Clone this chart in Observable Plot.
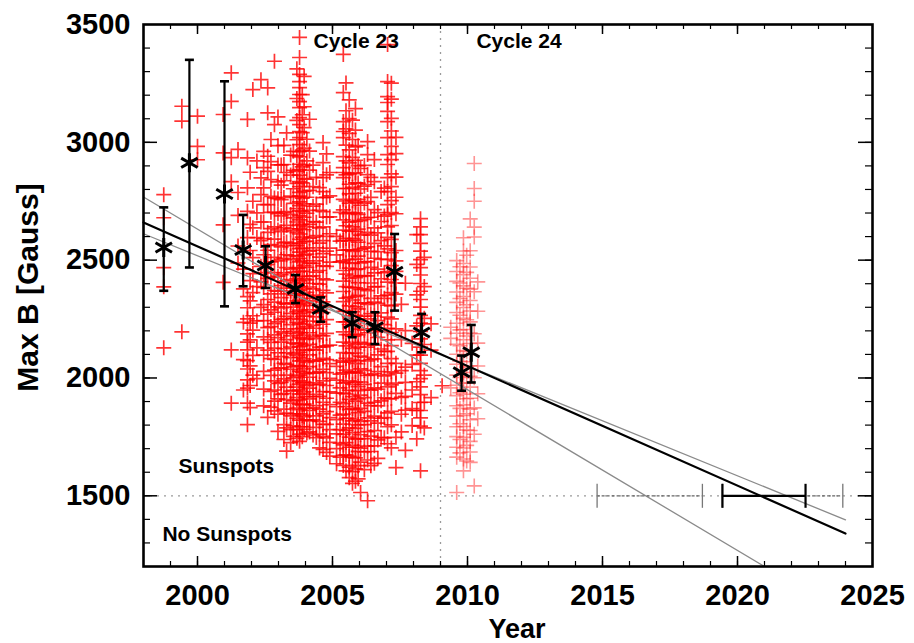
<!DOCTYPE html>
<html><head><meta charset="utf-8">
<script src="https://cdn.jsdelivr.net/npm/d3@7"></script>
<script src="https://cdn.jsdelivr.net/npm/@observablehq/plot@0.6"></script>
<style>html,body{margin:0;padding:0;background:#fff;} #chart{width:914px;height:643px;overflow:hidden;}</style>
</head><body><div id="chart"></div>
<script>
// ---------- data ----------
// Cycle 23 red crosses: column years and the Max B values read in each column
const c23Years = [1998.75, 1999.42, 2000.00, 2000.95, 2001.25, 2001.50, 2001.85, 2002.05, 2002.35, 2002.60, 2002.85, 2003.10, 2003.30, 2003.55, 2003.78, 2003.95, 2004.15, 2004.40, 2004.65, 2004.90, 2005.15, 2005.40, 2005.62, 2005.85, 2006.04, 2006.30, 2006.55, 2006.80, 2007.04, 2007.35, 2007.70, 2007.95, 2008.26, 2008.65, 2009.06,
  2003.45, 2003.68, 2003.88, 2004.05, 2004.28, 2004.52, 2004.78, 2005.28, 2005.50, 2005.74, 2005.95, 2006.18, 2006.42, 2006.68, 2006.92, 2007.18, 2007.55, 2008.12, 2008.40, 2002.20, 2001.70,
  2001.95, 2002.45, 2002.72, 2002.98, 2003.20];
const c23Fields = [
  [2778, 2680, 2468, 2387, 2128],
  [3153, 3090, 2196],
  [3111, 2983, 2926],
  [3118, 2955, 2650, 2406],
  [3295, 3174, 2935, 2833, 2119, 1893],
  [2970, 2787, 2690, 2560, 2488],
  [3097, 2934, 2807, 2707, 2596, 2345, 2298, 2251, 2187, 2152, 2119, 2074, 2038, 1992, 1957, 1893, 1802],
  [3224, 2750, 2637, 2511, 2443, 2362, 2264, 2203, 2096, 2012],
  [3266, 2849, 2778, 2662, 2583, 2474, 2408, 2300],
  [3231, 3125, 2941, 2877, 2736, 2618, 2542, 2481, 2423, 2333, 2271, 2214, 2163, 2118, 1833],
  [3344, 3075, 2764, 2703, 2641, 2589, 2512, 2447, 2371, 2322, 2279, 2231, 2183, 2127, 2079, 2033, 1988, 1949, 1902, 1860],
  [2904, 2818, 2757, 2688, 2621, 2556, 2503, 2438, 2392, 2341, 2297, 2248, 2196, 2152, 2091, 2043, 1981, 1930],
  [3040, 2872, 2706, 2648, 2577, 2523, 2468, 2412, 2357, 2313, 2262, 2208, 2163, 2107, 2058, 2012, 1961, 1908, 1851, 1788, 1690],
  [2962, 2881, 2803, 2741, 2679, 2624, 2563, 2502, 2449, 2404, 2352, 2301, 2253, 2198, 2148, 2102, 2047, 2001, 1948, 1903, 1848, 1797, 1752],
  [3445, 3360, 3288, 3258, 3232, 3203, 3173, 3147, 3105, 3075, 3045, 3020, 2990, 2960, 2938, 2907, 2884, 2861, 2833, 2812, 2788, 2772, 2747, 2731, 2709, 2688, 2671, 2648, 2633, 2611, 2588, 2572, 2549, 2534, 2508, 2493, 2468, 2452, 2431, 2412, 2388, 2373, 2351, 2329, 2312, 2288, 2273, 2249, 2232, 2208, 2193, 2171, 2148, 2133, 2109, 2088, 2072, 2051, 2029, 2012, 1988, 1973, 1949, 1932, 1907, 1888, 1866, 1848, 1821, 1793, 1762, 1731],
  [3280, 3151, 3062, 2975, 2902, 2846, 2793, 2739, 2682, 2629, 2578, 2521, 2477, 2421, 2379, 2322, 2281, 2228, 2182, 2137, 2081, 2039, 1982, 1941, 1889, 1836, 1782],
  [3098, 2963, 2882, 2796, 2711, 2652, 2593, 2538, 2487, 2431, 2386, 2338, 2289, 2241, 2192, 2143, 2098, 2048, 2003, 1957, 1911, 1862, 1818, 1771],
  [2851, 2738, 2661, 2604, 2552, 2497, 2449, 2401, 2352, 2308, 2259, 2211, 2167, 2118, 2071, 2023, 1979, 1931, 1883, 1839, 1790, 1747],
  [2999, 2914, 2850, 2791, 2765, 2706, 2641, 2583, 2528, 2476, 2421, 2372, 2323, 2277, 2228, 2179, 2132, 2083, 2037, 1988, 1942, 1897, 1848, 1803, 1752, 1697],
  [2872, 2773, 2684, 2612, 2551, 2492, 2139, 2061, 1998, 1941, 1887, 1832, 1781, 1727, 1668],
  [2601, 2522, 2049, 1991, 1936, 1878, 1823, 1763, 1700, 1636],
  [3373, 3211, 3088, 3046, 3020, 2939, 2893, 2872, 2850, 2804, 2758, 2713, 2671, 2627, 2584, 2542, 2497, 2456, 2411, 2367, 2324, 2283, 2238, 2196, 2152, 2108, 2067, 2022, 1978, 1936, 1891, 1847, 1804, 1761, 1716, 1672, 1629],
  [3180, 3101, 3038, 2968, 2913, 2866, 2822, 2781, 2742, 2703, 2661, 2623, 2582, 2544, 2502, 2466, 2423, 2385, 2343, 2306, 2263, 2227, 2184, 2147, 2104, 2068, 2026, 1988, 1947, 1909, 1867, 1829, 1788, 1749, 1706, 1668, 1622, 1577],
  [3143, 3052, 2981, 2924, 2871, 2828, 2784, 2746, 2701, 2664, 2622, 2585, 2541, 2504, 2461, 2426, 2382, 2346, 2302, 2266, 2222, 2186, 2142, 2106, 2061, 2026, 1982, 1946, 1902, 1866, 1822, 1786, 1742, 1706, 1661, 1614, 1562],
  [2889, 2802, 2733, 2668, 2606, 2547, 2488, 2431, 2376, 2318, 2262, 2207, 2151, 2093, 2039, 1983, 1927, 1871, 1816, 1759, 1702, 1643, 1514],
  [3003, 2948, 2863, 2821, 2748, 2680, 2618, 2556, 2494, 2433, 2371, 2312, 2251, 2192, 2131, 2072, 2011, 1952, 1893, 1831, 1772, 1711, 1652, 1479],
  [2927, 2833, 2714, 2637, 2571, 2508, 2446, 2387, 2322, 2263, 2201, 2139, 2081, 2018, 1958, 1897, 1838, 1777, 1712, 1638],
  [2791, 2664, 2583, 2503, 2421, 2348, 2276, 2197, 2123, 2048, 1978, 1903, 1829, 1748],
  [3415, 3258, 3194, 3169, 3131, 3088, 3020, 2948, 2906, 2850, 2791, 2736, 2693, 2641, 2597, 2548, 2503, 2451, 2407, 2352, 2309, 2258, 2211, 2162, 2113, 2062, 2014, 1962, 1911, 1852, 1793, 1721],
  [3021, 2952, 2852, 2767, 2697, 2541, 2497, 2452, 2403, 2356, 2208, 2062, 2021, 1978, 1935, 1748, 1620],
  [2402, 2201, 2046, 1981, 1922, 1864, 1693],
  [2147, 2058, 1949, 1870, 1798],
  [2676, 2641, 2608, 2571, 2538, 2502, 2468, 2437, 2401, 2368, 2333, 2301, 2266, 2233, 2198, 2166, 2131, 2097, 2062, 2031, 1997, 1962, 1929, 1896, 1862, 1831, 1796, 1606],
  [2230, 2118, 1917],
  [1967],
  [2946, 2861, 2772, 2694, 2633, 2571, 2519, 2462, 2417, 2369, 2318, 2274, 2226, 2179, 2131, 2086, 2037, 1989, 1944, 1893, 1839, 1781, 1726],
  [3312, 3186, 3093, 3011, 2943, 2877, 2826, 2768, 2719, 2662, 2617, 2562, 2517, 2466, 2421, 2372, 2327, 2281, 2236, 2188, 2143, 2097, 2052, 2006, 1961, 1917, 1872, 1829, 1781, 1744],
  [3202, 3117, 3041, 2967, 2896, 2828, 2763, 2706, 2652, 2598, 2551, 2498, 2452, 2402, 2357, 2306, 2262, 2211, 2167, 2119, 2074, 2024, 1979, 1932, 1886, 1841, 1793, 1751],
  [3013, 2921, 2844, 2767, 2699, 2641, 2581, 2526, 2469, 2416, 2363, 2316, 2263, 2217, 2164, 2118, 2066, 2018, 1967, 1921, 1871, 1822, 1766],
  [2903, 2812, 2729, 2664, 2598, 2542, 2486, 2433, 2378, 2327, 2277, 2223, 2174, 2121, 2073, 2021, 1972, 1921, 1873, 1822, 1758],
  [2808, 2711, 2637, 2572, 2513, 2456, 2398, 2346, 2287, 2238, 2182, 2131, 2077, 2027, 1973, 1922, 1868, 1816, 1762, 1703],
  [2951, 2862, 2767, 2683, 2601, 2538, 2474, 2416, 2361, 2302, 2248, 2189, 2136, 2078, 2023, 1968, 1914, 1857, 1803, 1746, 1684],
  [2703, 2581, 2493, 2074, 2016, 1958, 1897, 1842, 1781, 1723, 1664],
  [3252, 3134, 3057, 2988, 2921, 2862, 2804, 2751, 2697, 2646, 2592, 2543, 2489, 2441, 2388, 2339, 2286, 2238, 2184, 2136, 2083, 2033, 1981, 1932, 1879, 1829, 1778, 1726, 1674, 1606],
  [3094, 3012, 2936, 2867, 2809, 2752, 2698, 2641, 2591, 2537, 2486, 2433, 2384, 2331, 2281, 2228, 2178, 2126, 2076, 2023, 1973, 1921, 1871, 1818, 1768, 1714, 1663, 1603, 1553],
  [2986, 2901, 2827, 2758, 2694, 2632, 2576, 2517, 2463, 2404, 2351, 2293, 2241, 2183, 2131, 2074, 2021, 1963, 1911, 1853, 1801, 1742, 1688, 1628, 1572],
  [2902, 2814, 2742, 2673, 2611, 2551, 2493, 2434, 2377, 2319, 2262, 2203, 2147, 2088, 2032, 1973, 1917, 1858, 1802, 1743, 1686, 1611],
  [2851, 2766, 2682, 2606, 2537, 2469, 2403, 2338, 2273, 2208, 2143, 2078, 2013, 1948, 1883, 1818, 1753, 1688, 1628],
  [2702, 2616, 2536, 2462, 2388, 2317, 2243, 2172, 2098, 2027, 1953, 1882, 1808, 1737, 1659],
  [2806, 2687, 2561, 2447, 2338, 2226, 2113, 2009, 1916, 1832, 1746],
  [3251, 3183, 3102, 3048, 2983, 2927, 2866, 2812, 2753, 2702, 2647, 2588, 2532, 2477, 2418, 2362, 2306, 2251, 2193, 2137, 2082, 2026, 1971, 1913, 1858, 1801, 1703],
  [2312, 2163, 2031, 1918, 1846, 1771],
  [2608, 2482, 2353, 2221, 2097, 1984, 1862, 1742],
  [2512, 2388, 2253, 2142, 2012, 1897, 1788],
  [2921, 2701, 2596, 2388, 2242, 2128, 1997],
  [2462, 2378, 2236, 2078, 1949],
  [2873, 2652, 2541, 2413, 2327, 2233, 2162, 2051, 1968, 1874],
  [2962, 2893, 2807, 2736, 2662, 2591, 2523, 2447, 2384, 2311, 2243, 2174, 2097, 2028, 1953, 1882],
  [3012, 2918, 2842, 2771, 2703, 2634, 2566, 2493, 2428, 2357, 2289, 2218, 2151, 2082, 2011, 1943, 1876],
  [3108, 2986, 2904, 2832, 2761, 2697, 2628, 2563, 2497, 2432, 2368, 2302, 2238, 2171, 2107, 2041, 1977, 1911, 1846, 1773],
  [2987, 2906, 2837, 2766, 2702, 2637, 2573, 2508, 2446, 2381, 2318, 2252, 2189, 2124, 2062, 1996, 1934, 1868, 1802, 1739]
];
// Cycle 24 (lighter) crosses
const c24Years = [2009.38, 2009.60, 2009.85, 2010.10, 2010.25, 2009.72, 2009.97, 2010.38];
const c24Fields = [
  [2215, 2168, 1958],
  [2498, 2452, 2410, 2365, 2321, 2278, 2232, 2190, 2143, 2101, 2058, 2012, 1969, 1925, 1882, 1838, 1793, 1751, 1706, 1664, 1514],
  [2595, 2539, 2486, 2438, 2391, 2346, 2299, 2253, 2206, 2162, 2116, 2069, 2023, 1978, 1931, 1886, 1841, 1794, 1748, 1703, 1656, 1606],
  [2675, 2540, 2471, 2423, 2377, 2329, 2284, 2238, 2191, 2146, 2099, 2052, 2007, 1961, 1914, 1868, 1823, 1777, 1731, 1686, 1642],
  [2910, 2804, 2750, 2640, 2598, 2366, 2188, 2001, 1873, 1761, 1542],
  [2472, 2403, 2337, 2266, 2204, 2137, 2071, 2002, 1937, 1871, 1806, 1739, 1682],
  [2521, 2448, 2381, 2311, 2247, 2178, 2113, 2046, 1979, 1912, 1848, 1779, 1714, 1648],
  [2408, 2283, 2148, 2051, 1933, 1827]
];
// Binned means (asterisks) with error bars
const binYear = [1998.75, 1999.70, 2001.00, 2001.69, 2002.52, 2003.63, 2004.56, 2005.73, 2006.57, 2007.30, 2008.30, 2009.78, 2010.14];
const binMean = [2554, 2913, 2781, 2543, 2477, 2378, 2293, 2232, 2215, 2451, 2193, 2024, 2109];
const binHigh = [2724, 3350, 3259, 2692, 2559, 2437, 2342, 2279, 2279, 2611, 2272, 2095, 2225];
const binLow  = [2370, 2469, 2304, 2389, 2382, 2318, 2239, 2173, 2144, 2286, 2109, 1946, 1981];
// Linear fits
const fitYears = [1998, 2024];
const fitBest = [2660, 1340];
const fitShallow = [2612, 1398];
const fitSteepYears = [1998, 2021];
const fitSteep = [2768, 1200];
// Predicted crossing of 1500 G, with ranges
const bestRange = [2019.44, 2022.52];
const steepRange = [2014.8, 2018.7];
const shallowRange = [2019.45, 2023.9];
const thresholdB = [1500];
const cycleBoundary = [2009.0];
// Text
const xTickLabels = [2000, 2005, 2010, 2015, 2020, 2025];
const yTickLabels = [1500, 2000, 2500, 3000, 3500];
const noteText = ["Cycle 23", "Cycle 24", "Sunspots", "No Sunspots"];
const noteYear = [2004.3, 2010.33, 1999.3, 1998.7];
const noteB = [3400, 3400, 1598, 1309];

// ---------- build tables ----------
const c23Points = c23Years.flatMap((year, i) => c23Fields[i].map(b => ({year, b})));
const c24Points = c24Years.flatMap((year, i) => c24Fields[i].map(b => ({year, b})));
const bins = binYear.map((year, i) => ({year, mean: binMean[i], hi: binHigh[i], lo: binLow[i]}));
const binCaps = bins.flatMap(d => [{year: d.year, b: d.hi}, {year: d.year, b: d.lo}]);
const line = (xs, ys) => xs.map((x, i) => ({x, y: ys[i]}));
const grayRanges = [steepRange, shallowRange].map(r => ({lo: r[0], hi: r[1]}));
const blackRanges = [bestRange].map(r => ({lo: r[0], hi: r[1]}));
const capsOf = rs => rs.flatMap(r => [{x: r.lo, y: thresholdB[0]}, {x: r.hi, y: thresholdB[0]}]);
const notes = noteText.map((label, i) => ({label, year: noteYear[i], b: noteB[i]}));

// ---------- layout ----------
const W = 914, H = 643, mL = 143, mR = 42, mT = 24, mB = 77;
const iW = W - mL - mR, iH = H - mT - mB;
const FONT = "'Liberation Sans', Arial, Helvetica, sans-serif";
const capH = {draw(c) { c.moveTo(-4.5, 0); c.lineTo(4.5, 0); }};
const capV = {draw(c) { c.moveTo(0, -12); c.lineTo(0, 12); }};
const crossSym = {draw(c) { c.moveTo(-7.5, 0); c.lineTo(7.5, 0); c.moveTo(0, -7.5); c.lineTo(0, 7.5); }};
const xMinor = d3.range(1999, 2025, 1);
const xMajor = d3.range(2000, 2025, 5);
const yMinor = d3.range(1300, 3500, 100);
const yMajor = d3.range(1500, 3500, 500);

const chart = Plot.plot({
  width: W, height: H,
  marginLeft: mL, marginRight: mR, marginTop: mT, marginBottom: mB,
  x: {domain: [1998, 2025], axis: null},
  y: {domain: [1200, 3500], axis: null},
  style: {fontFamily: FONT, background: "white", color: "black", overflow: "visible"},
  marks: [
    Plot.ruleY(thresholdB, {stroke: "#9a9a9a", strokeDasharray: "2,5", strokeWidth: 1.3}),
    Plot.ruleX(cycleBoundary, {stroke: "#9a9a9a", strokeDasharray: "2,5", strokeWidth: 1.3}),
    Plot.text(notes, {x: "year", y: "b", text: "label", textAnchor: "start", lineAnchor: "bottom", fontSize: 21, fontWeight: "bold", fill: "black"}),
    Plot.dot(c23Points, {x: "year", y: "b", symbol: crossSym, fill: "none", stroke: "#ff0000", strokeWidth: 1.7, strokeOpacity: 0.8}),
    Plot.dot(c24Points, {x: "year", y: "b", symbol: crossSym, fill: "none", stroke: "#ff2a2a", strokeWidth: 1.6, strokeOpacity: 0.5}),
    Plot.line(line(fitSteepYears, fitSteep), {x: "x", y: "y", stroke: "#8a8a8a", strokeWidth: 1.3, clip: true}),
    Plot.line(line(fitYears, fitShallow), {x: "x", y: "y", stroke: "#8a8a8a", strokeWidth: 1.3}),
    Plot.line(line(fitYears, fitBest), {x: "x", y: "y", stroke: "black", strokeWidth: 2.2}),
    Plot.ruleY(grayRanges, {x1: "lo", x2: "hi", y: () => thresholdB[0], stroke: "#666", strokeWidth: 1.2, strokeDasharray: "3,2"}),
    Plot.dot(capsOf(grayRanges), {x: "x", y: "y", symbol: capV, fill: "none", stroke: "#777", strokeWidth: 1.3}),
    Plot.ruleY(blackRanges, {x1: "lo", x2: "hi", y: () => thresholdB[0], stroke: "black", strokeWidth: 2.2}),
    Plot.dot(capsOf(blackRanges), {x: "x", y: "y", symbol: capV, fill: "none", stroke: "black", strokeWidth: 2.2}),
    Plot.ruleX(bins, {x: "year", y1: "lo", y2: "hi", stroke: "black", strokeWidth: 2.2}),
    Plot.dot(binCaps, {x: "year", y: "b", symbol: capH, fill: "none", stroke: "black", strokeWidth: 2.6}),
    Plot.dot(bins, {x: "year", y: "mean", symbol: "asterisk", r: 9, stroke: "black", strokeWidth: 3}),
    // inward ticks on all four sides
    Plot.tickX(xMinor, {x: d => d, insetTop: iH - 5, stroke: "black", strokeWidth: 1.2}),
    Plot.tickX(xMajor, {x: d => d, insetTop: iH - 10, stroke: "black", strokeWidth: 1.5}),
    Plot.tickX(xMinor, {x: d => d, insetBottom: iH - 5, stroke: "black", strokeWidth: 1.2}),
    Plot.tickX(xMajor, {x: d => d, insetBottom: iH - 10, stroke: "black", strokeWidth: 1.5}),
    Plot.tickY(yMinor, {y: d => d, insetRight: iW - 7, stroke: "black", strokeWidth: 1.2}),
    Plot.tickY(yMajor, {y: d => d, insetRight: iW - 14, stroke: "black", strokeWidth: 1.5}),
    Plot.tickY(yMinor, {y: d => d, insetLeft: iW - 7, stroke: "black", strokeWidth: 1.2}),
    Plot.tickY(yMajor, {y: d => d, insetLeft: iW - 14, stroke: "black", strokeWidth: 1.5}),
    Plot.frame({stroke: "black", strokeWidth: 2.6}),
    Plot.axisX({ticks: xTickLabels, tickSize: 0, tickPadding: 18, tickFormat: d => String(d), fontSize: 29, fontWeight: "bold", label: null}),
    Plot.axisY({ticks: yTickLabels, tickSize: 0, tickPadding: 13, tickFormat: d => String(d), fontSize: 29, fontWeight: "bold", label: null}),
    Plot.text(["Year"], {frameAnchor: "bottom", dx: 9, dy: 52, lineAnchor: "top", fontSize: 27, fontWeight: "bold", fill: "black"}),
    Plot.text(["Max B [Gauss]"], {frameAnchor: "left", textAnchor: "middle", rotate: -90, dx: -115, dy: -8, fontSize: 30, fontWeight: "bold", fill: "black"})
  ]
});
document.getElementById("chart").appendChild(chart);
</script></body></html>
